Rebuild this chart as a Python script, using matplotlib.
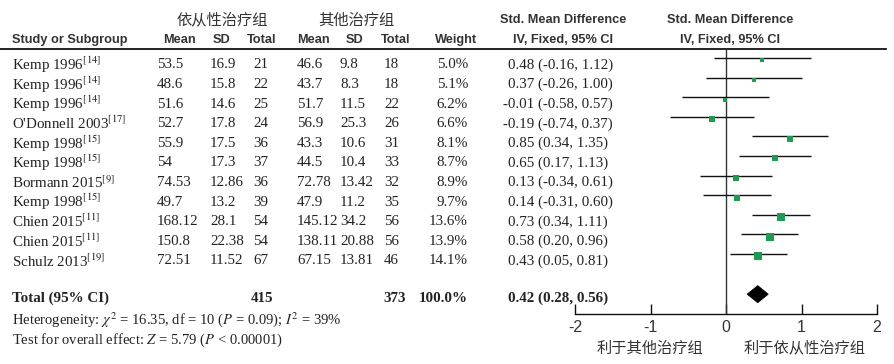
import matplotlib
matplotlib.use("Agg")
import matplotlib.pyplot as plt
from matplotlib import font_manager
from matplotlib.patches import Polygon

# ---------------- data ----------------
studies = ["Kemp 1996", "Kemp 1996", "Kemp 1996", "O'Donnell 2003", "Kemp 1998", "Kemp 1998",
           "Bormann 2015", "Kemp 1998", "Chien 2015", "Chien 2015", "Schulz 2013"]
refs = ["14", "14", "14", "17", "15", "15", "9", "15", "11", "11", "19"]
mean1 = ["53.5", "48.6", "51.6", "52.7", "55.9", "54", "74.53", "49.7", "168.12", "150.8", "72.51"]
sd1 = ["16.9", "15.8", "14.6", "17.8", "17.5", "17.3", "12.86", "13.2", "28.1", "22.38", "11.52"]
n1 = [21, 22, 25, 24, 36, 37, 36, 39, 54, 54, 67]
mean2 = ["46.6", "43.7", "51.7", "56.9", "43.3", "44.5", "72.78", "47.9", "145.12", "138.11", "67.15"]
sd2 = ["9.8", "8.3", "11.5", "25.3", "10.6", "10.4", "13.42", "11.2", "34.2", "20.88", "13.81"]
n2 = [18, 18, 22, 26, 31, 33, 32, 35, 56, 56, 46]
weight = [5.0, 5.1, 6.2, 6.6, 8.1, 8.7, 8.9, 9.7, 13.6, 13.9, 14.1]
smd = [0.48, 0.37, -0.01, -0.19, 0.85, 0.65, 0.13, 0.14, 0.73, 0.58, 0.43]
ci_lo = [-0.16, -0.26, -0.58, -0.74, 0.34, 0.17, -0.34, -0.31, 0.34, 0.20, 0.05]
ci_hi = [1.12, 1.00, 0.57, 0.37, 1.35, 1.13, 0.61, 0.60, 1.11, 0.96, 0.81]
total_n1 = 415
total_n2 = 373
total_weight = "100.0%"
total_smd = 0.42
total_lo = 0.28
total_hi = 0.56
group1 = "依从性治疗组"
group2 = "其他治疗组"
favours_left = "利于其他治疗组"
favours_right = "利于依从性治疗组"
xticks = [-2, -1, 0, 1, 2]
heterogeneity = r"Heterogeneity: $\chi^2$ = 16.35, df = 10 ($P$ = 0.09); $I^2$ = 39%"
overall = r"Test for overall effect: $Z$ = 5.79 ($P$ < 0.00001)"

# ---------------- fonts ----------------
plt.rcParams["mathtext.fontset"] = "stix"
names = {f.name for f in font_manager.fontManager.ttflist}
HEAD = "Liberation Sans Narrow" if "Liberation Sans Narrow" in names else "Liberation Sans"
SERIF = "Liberation Serif"
CJK = ["Noto Sans CJK SC", "DejaVu Sans"]
TXT = "#222222"
HCOL = "#333333"
fs = 10.8
hfs = 11 if HEAD == "Liberation Sans Narrow" else 9.2
cfs = 11

W, H = 894, 364
fig = plt.figure(figsize=(W / 100, H / 100), dpi=100)

# overlay axes in pixel coordinates for the table text
tx = fig.add_axes([0, 0, 1, 1])
tx.set_xlim(0, W)
tx.set_ylim(H, 0)
tx.axis("off")

# forest plot axes: x -2..2 -> px 575..877 ; y rows
x0p, x1p = 575, 877
ytop, ybot = 49, 314
row0, rstep = 58, 19.6
ax = fig.add_axes([x0p / W, 1 - ybot / H, (x1p - x0p) / W, (ybot - ytop) / H])
ax.set_xlim(-2, 2)
ax.set_ylim((ybot - row0) / rstep, (ytop - row0) / rstep)
ax.patch.set_alpha(0)
for s in ["top", "left", "right"]:
    ax.spines[s].set_visible(False)
ax.spines["bottom"].set_linewidth(1.0)
ax.spines["bottom"].set_color("#111111")
ax.set_yticks([])
ax.set_xticks(xticks)
ax.set_xticklabels([str(t) for t in xticks], fontfamily=HEAD, fontsize=11.5, color=HCOL)
ax.tick_params(axis="x", direction="in", length=7, width=1.0, color="#111111", pad=4)
ax.axvline(0, color="#333333", lw=1.0)

n = len(smd)
rows = list(range(n))
for i in rows:
    ax.plot([ci_lo[i], ci_hi[i]], [i, i], color="#111111", lw=1.0, solid_capstyle="butt")
    ax.plot(smd[i], i + 0.12, marker="s", color="#1f9a50", ms=2.2 + weight[i] * 0.22, mew=0)

ty = 12.05
dh = 0.44
ax.add_patch(Polygon([(total_lo, ty), (total_smd, ty - dh), (total_hi, ty), (total_smd, ty + dh)],
                     closed=True, facecolor="black", edgecolor="black", lw=0.5))

# ---------------- header ----------------
tx.plot([0, 886], [49, 49], color="#111111", lw=1.3)
tx.text(12, 40, "Study or Subgroup", fontfamily=HEAD, fontweight="bold", fontsize=hfs, color=HCOL, va="center")
tx.text(222, 20, group1, fontfamily=CJK, fontsize=cfs, color=HCOL, ha="center", va="center")
tx.text(356, 20, group2, fontfamily=CJK, fontsize=cfs, color=HCOL, ha="center", va="center")
for xc, lab in [(179, "Mean"), (222, "SD"), (262, "Total"), (313, "Mean"), (355, "SD"), (396, "Total"),
                (456, "Weight")]:
    tx.text(xc, 40, lab, fontfamily=HEAD, fontweight="bold", fontsize=hfs, color=HCOL, ha="center", va="center")
for xc in (563, 730):
    tx.text(xc, 20, "Std. Mean Difference", fontfamily=HEAD, fontweight="bold", fontsize=hfs, color=HCOL,
            ha="center", va="center")
    tx.text(xc, 40, "IV, Fixed, 95% CI", fontfamily=HEAD, fontweight="bold", fontsize=hfs, color=HCOL,
            ha="center", va="center")

# ---------------- rows ----------------
for i in rows:
    y = 65 + rstep * i
    kw = dict(fontfamily=SERIF, fontsize=fs, color=TXT, va="center")
    tx.text(12, y, studies[i] + r"$^{[" + refs[i] + r"]}$", **kw)
    tx.text(157, y, mean1[i], **kw)
    tx.text(210, y, sd1[i], **kw)
    tx.text(253, y, str(n1[i]), **kw)
    tx.text(297, y, mean2[i], **kw)
    tx.text(340, y, sd2[i], **kw)
    tx.text(384, y, str(n2[i]), **kw)
    tx.text(468, y, f"{weight[i]:.1f}%", ha="right", **kw)
    lab = f"{smd[i]:.2f} ({ci_lo[i]:.2f}, {ci_hi[i]:.2f})"
    tx.text(508 if smd[i] >= 0 else 503, y, lab, **kw)

yt = 298
kwb = dict(fontfamily=SERIF, fontsize=fs, color=TXT, va="center", fontweight="bold")
tx.text(12, yt, "Total (95% CI)", **kwb)
tx.text(262, yt, str(total_n1), ha="center", **kwb)
tx.text(395, yt, str(total_n2), ha="center", **kwb)
tx.text(468, yt, total_weight, ha="right", **kwb)
tx.text(508, yt, f"{total_smd:.2f} ({total_lo:.2f}, {total_hi:.2f})", **kwb)

tx.text(12, 320, heterogeneity, fontfamily=SERIF, fontsize=10.5, color=TXT, va="center")
tx.text(12, 340, overall, fontfamily=SERIF, fontsize=10.5, color=TXT, va="center")

tx.text(650, 348, favours_left, fontfamily=CJK, fontsize=cfs, color=HCOL, ha="center", va="center")
tx.text(805, 348, favours_right, fontfamily=CJK, fontsize=cfs, color=HCOL, ha="center", va="center")

fig.savefig("out.png", dpi=100)
